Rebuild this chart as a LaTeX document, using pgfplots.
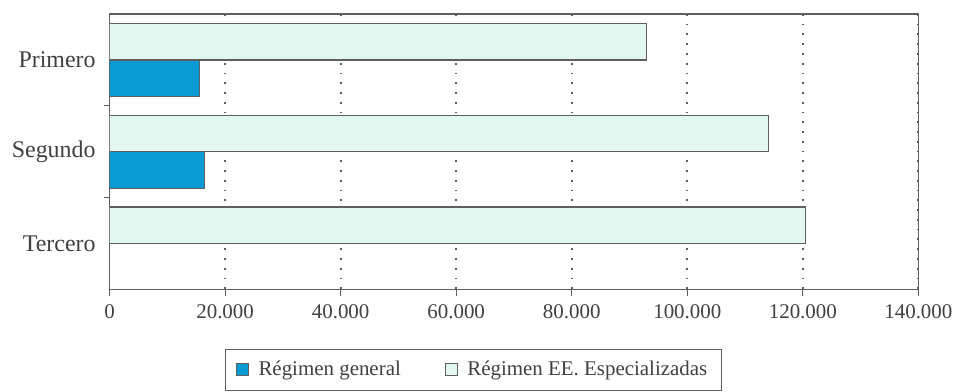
\documentclass[border=0pt]{standalone}
\usepackage{pgfplots}
\pgfplotsset{compat=1.18}
\usepackage{fontspec}
\setmainfont{Liberation Serif}
\definecolor{azul}{RGB}{10,155,210}
\definecolor{menta}{RGB}{225,247,240}
\definecolor{eje}{RGB}{95,95,95}
\begin{document}
\begin{tikzpicture}
\begin{axis}[
    name=ax,
    scale only axis,
    width=406pt, height=138.5pt,
    xbar, bar width=0.4,
    y dir=reverse,
    xmin=0, xmax=140000,
    ymin=-0.5, ymax=2.5,
    axis line style={draw=eje, line width=0.6pt},
    scaled x ticks=false,
    xtick={0,20000,40000,60000,80000,100000,120000,140000},
    xticklabels={0,20.000,40.000,60.000,80.000,100.000,120.000,140.000},
    xtick pos=left, ytick pos=left,
    tick align=outside,
    major tick length=3pt,
    tick style={draw=eje, line width=0.5pt},
    ticklabel style={font=\fontsize{10.5}{12}\selectfont, text=black!75},
    xticklabel style={yshift=-1pt},
    ytick={0.5,1.5}, yticklabels={,},
    extra y ticks={0,1,2},
    extra y tick labels={Primero,Segundo,Tercero},
    extra y tick style={major tick length=0pt, yticklabel style={font=\fontsize{12}{14}\selectfont, text=black!75, xshift=-3.5pt}},
    xmajorgrids,
    grid style={draw=eje, line width=0.9pt, dash pattern=on 0.9pt off 4pt},
    legend columns=2,
    legend style={at={(0.45,-0.213)}, anchor=north, draw=eje, line width=0.5pt,
        font=\fontsize{10.5}{12}\selectfont, text=black!75,
        inner xsep=5pt, inner ysep=4pt,
        /tikz/every odd column/.append style={column sep=3pt},
        /tikz/every even column/.append style={column sep=20pt}},
    legend image code/.code={\draw[#1, draw=eje, line width=0.4pt] (0pt,-3pt) rectangle (6pt,3pt);},
]
\addplot[fill=azul, draw=eje, line width=0.6pt, bar shift=0.2] coordinates {
    (15500,0) (16400,1)
};
\addplot[fill=menta, draw=eje, line width=0.6pt, bar shift=-0.2] coordinates {
    (93000,0) (114000,1) (120500,2)
};
\legend{Régimen general, Régimen EE. Especializadas}
\end{axis}
\path ([xshift=-55pt]ax.south west) ([yshift=7pt]ax.north east) ([xshift=18.5pt]ax.north east);
\end{tikzpicture}
\end{document}
